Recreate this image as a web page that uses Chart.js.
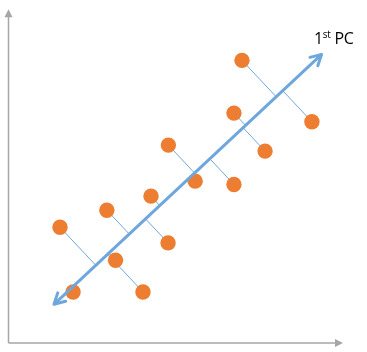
<!DOCTYPE html>
<html>
<head>
<meta charset="utf-8">
<script src="https://cdn.jsdelivr.net/npm/chart.js@4"></script>
<style>
  html, body { margin: 0; padding: 0; background: #fff; }
  #wrap { position: relative; width: 367px; height: 352px; }
  #pcLabel {
    position: absolute; left: 314px; top: 30px;
    font-family: "Open Sans", sans-serif; font-size: 16px; line-height: 16px;
    color: #000; white-space: nowrap; letter-spacing: -0.3px;
  }
  #pcLabel sup { font-size: 10px; line-height: 0; vertical-align: 6px; }
</style>
</head>
<body>
<div id="wrap">
  <canvas id="pcaChart" width="367" height="352"></canvas>
  <div id="pcLabel">1<sup>st</sup> PC</div>
</div>
<script>
// observations (arbitrary units, axes 0..10)
const pointX = [1.54, 1.93, 2.94, 3.20, 4.02, 4.26, 4.77, 4.78, 5.58, 6.74, 6.74, 7.67, 6.98, 9.07];
const pointY = [3.47, 1.53, 3.98, 2.48, 1.53, 4.40, 3.00, 5.93, 4.85, 4.75, 6.89, 5.75, 8.47, 6.63];

// first principal component arrow, tail and head
const pcX = [1.36, 9.36];
const pcY = [1.16, 8.65];

const blue = '#6FA7DC';
const orange = '#ED7D31';
const axisGrey = '#A6A6A6';

// project each point onto the PC line
const dx = pcX[1] - pcX[0], dy = pcY[1] - pcY[0];
const len2 = dx * dx + dy * dy;
const connectors = [];
pointX.forEach(function (x, i) {
    const y = pointY[i];
    const t = ((x - pcX[0]) * dx + (y - pcY[0]) * dy) / len2;
    connectors.push({ x: x, y: y });
    connectors.push({ x: pcX[0] + t * dx, y: pcY[0] + t * dy });
    connectors.push({ x: x, y: null });
});

function arrowHead(ctx, x0, y0, x1, y1, size, spread) {
    const a = Math.atan2(y1 - y0, x1 - x0);
    ctx.beginPath();
    ctx.moveTo(x1 - size * Math.cos(a - spread), y1 - size * Math.sin(a - spread));
    ctx.lineTo(x1, y1);
    ctx.lineTo(x1 - size * Math.cos(a + spread), y1 - size * Math.sin(a + spread));
    ctx.stroke();
}

const axesPlugin = {
    id: 'axesArrows',
    beforeDatasetsDraw(chart) {
        const ctx = chart.ctx;
        const a = chart.chartArea;
        ctx.save();
        ctx.strokeStyle = axisGrey;
        ctx.fillStyle = axisGrey;
        ctx.lineWidth = 1.5;
        ctx.beginPath();
        ctx.moveTo(a.left, a.bottom);
        ctx.lineTo(a.left, a.top + 6);
        ctx.moveTo(a.left, a.bottom);
        ctx.lineTo(a.right - 6, a.bottom);
        ctx.stroke();
        ctx.beginPath();
        ctx.moveTo(a.left, a.top);
        ctx.lineTo(a.left - 4, a.top + 8);
        ctx.lineTo(a.left + 4, a.top + 8);
        ctx.closePath();
        ctx.fill();
        ctx.beginPath();
        ctx.moveTo(a.right, a.bottom);
        ctx.lineTo(a.right - 8, a.bottom - 4);
        ctx.lineTo(a.right - 8, a.bottom + 4);
        ctx.closePath();
        ctx.fill();
        ctx.restore();
    },
    afterDatasetsDraw(chart) {
        const pts = chart.getDatasetMeta(0).data;
        const ctx = chart.ctx;
        ctx.save();
        ctx.strokeStyle = blue;
        ctx.lineWidth = 3;
        ctx.lineCap = 'round';
        ctx.lineJoin = 'round';
        arrowHead(ctx, pts[0].x, pts[0].y, pts[1].x, pts[1].y, 12, 0.5);
        arrowHead(ctx, pts[1].x, pts[1].y, pts[0].x, pts[0].y, 12, 0.5);
        ctx.restore();
    }
};

new Chart(document.getElementById('pcaChart'), {
    type: 'scatter',
    data: {
        datasets: [{
            type: 'line',
            label: '1st PC',
            data: pcX.map((x, i) => ({ x: x, y: pcY[i] })),
            borderColor: blue,
            borderWidth: 3,
            pointRadius: 0,
            order: 0
        }, {
            label: 'points',
            data: pointX.map((x, i) => ({ x: x, y: pointY[i] })),
            backgroundColor: orange,
            borderWidth: 0,
            pointRadius: 7.7,
            order: 1
        }, {
            type: 'line',
            label: 'projections',
            data: connectors,
            borderColor: blue,
            borderWidth: 1,
            pointRadius: 0,
            spanGaps: false,
            order: 2
        }]
    },
    options: {
        responsive: false,
        animation: false,
        layout: { padding: { left: 8.5, right: 24, top: 9.3, bottom: 9 } },
        plugins: {
            legend: { display: false },
            tooltip: { enabled: false }
        },
        scales: {
            x: { type: 'linear', min: 0, max: 10, display: false },
            y: { type: 'linear', min: 0, max: 10, display: false }
        }
    },
    plugins: [axesPlugin]
});
</script>
</body>
</html>
